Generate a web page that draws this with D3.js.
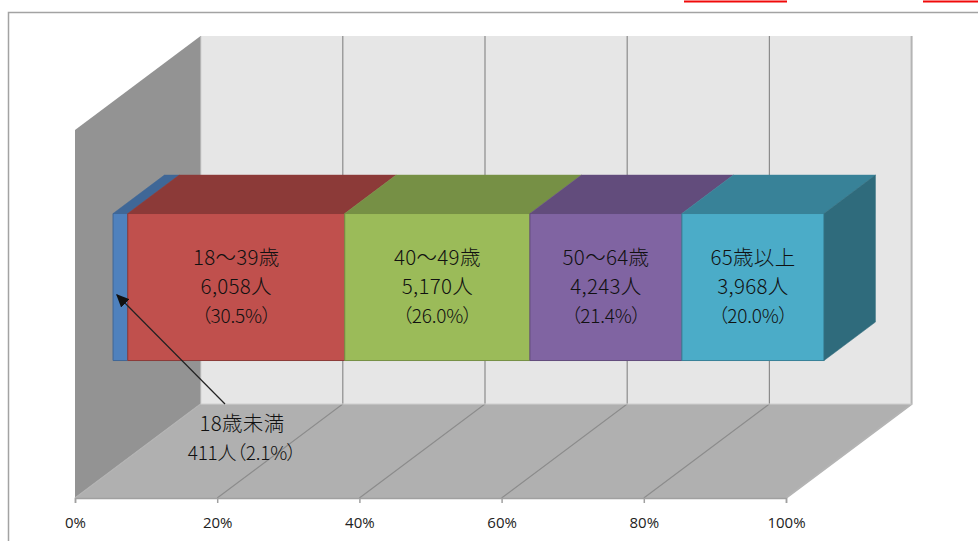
<!DOCTYPE html>
<html>
<head>
<meta charset="utf-8">
<script src="https://cdn.jsdelivr.net/npm/d3@7"></script>
<style>
  body { margin: 0; background: #fff; }
  svg { display: block; }
  .label { font-family: "Noto Sans CJK JP"; font-weight: 300; font-size: 20.5px; font-feature-settings: "palt"; fill: #111; text-anchor: middle; letter-spacing: 0.3px; }
  .label.tight { font-size: 19px; letter-spacing: -0.2px; }
  .tick text { font-family: "Open Sans"; font-size: 15px; fill: #222; }
</style>
</head>
<body>
<div id="wrapper"></div>
<script>
const categories = ["18歳未満", "18～39歳", "40～49歳", "50～64歳", "65歳以上"]
const people = [411, 6058, 5170, 4243, 3968]
const shares = ["2.1%", "30.5%", "26.0%", "21.4%", "20.0%"]
const tickValues = [0, 0.2, 0.4, 0.6, 0.8, 1]

const frontColors = ["#4f81bd", "#c0504d", "#9bbb59", "#8064a2", "#4bacc8"]
const topColors = ["#3f6797", "#8c3a38", "#769045", "#624c7c", "#388298"]
const sideColor = "#2f6b7c"

let dimensions = {
  width: 978,
  height: 541,
  floorLeft: 75,
  floorRight: 786,
  floorY: 498,
  depthX: 125.6,
  depthY: 94,
  wallHeight: 368,
  barBack: 0.712,
  barFront: 0.303,
  barBottom: 109,
  barTop: 256
}

const wrapper = d3.select("#wrapper").append("svg")
  .attr("width", dimensions.width)
  .attr("height", dimensions.height)

// Scales
const xScale = d3.scaleLinear().domain([0, 1]).range([dimensions.floorLeft, dimensions.floorRight])
const depthScale = d3.scaleLinear().domain([0, 1]).range([0, dimensions.depthX])
const riseScale = d3.scaleLinear().domain([0, 1]).range([0, dimensions.depthY])

// value along the axis, depth into the box, height above the floor -> screen point
const project = (v, d, h) => [xScale(v) + depthScale(d), dimensions.floorY - riseScale(d) - h]
const poly = pts => "M" + pts.map(p => p.join(",")).join("L") + "Z"

// Red rules left over from the page above the chart
const rules = [[684, 787], [923, 978]]
wrapper.selectAll(".rule").data(rules).enter().append("line")
  .attr("x1", d => d[0]).attr("x2", d => d[1])
  .attr("y1", 1.5).attr("y2", 1.5)
  .attr("stroke", "#f00a0a").attr("stroke-width", 2)

// Outer frame, open on the right and bottom
wrapper.append("path")
  .attr("d", `M8.5,${dimensions.height}V12.5H${dimensions.width}`)
  .attr("fill", "none").attr("stroke", "#a3a3a3").attr("stroke-width", 1.5)

// Walls and floor
const h = dimensions.wallHeight
wrapper.append("path")
  .attr("d", poly([project(0, 1, 0), project(0, 1, h), project(1, 1, h), project(1, 1, 0)]))
  .attr("fill", "#e6e6e6")
wrapper.append("path")
  .attr("d", poly([project(0, 0, 0), project(0, 0, h), project(0, 1, h), project(0, 1, 0)]))
  .attr("fill", "#939393")
wrapper.append("path")
  .attr("d", poly([project(0, 0, 0), project(0, 1, 0), project(1, 1, 0), project(1, 0, 0)]))
  .attr("fill", "#b0b0b0")

// Gridlines over back wall and floor
const gridLine = d3.line()
wrapper.selectAll(".grid").data(tickValues).enter().append("path")
  .attr("d", v => gridLine([project(v, 1, h), project(v, 1, 0), project(v, 0, 0)]))
  .attr("fill", "none")
  .attr("stroke", v => (v === 0 || v === 1) ? "#b4b4b4" : "#8c8c8c")
  .attr("stroke-width", v => v === 1 ? 2 : 1.2)

// Floor back edge
wrapper.append("path")
  .attr("d", gridLine([project(0, 1, 0), project(1, 1, 0)]))
  .attr("stroke", "#cfcfcf").attr("fill", "none")

// Axis
const xAxisGenerator = d3.axisBottom().scale(xScale)
  .tickValues(tickValues).tickFormat(d3.format(".0%")).tickSize(5).tickPadding(14)
const xAxis = wrapper.append("g").call(xAxisGenerator)
  .attr("transform", `translate(0,${dimensions.floorY})`)
xAxis.selectAll("line, path").attr("stroke", "#a0a0a0").attr("stroke-width", 1.5)

// Stacked 100% bar
const row = {}
categories.forEach((c, i) => row[c] = people[i])
const stacked = d3.stack().keys(categories).offset(d3.stackOffsetExpand)([row])
const segs = stacked.map((s, i) => ({ x0: s[0][0], x1: s[0][1], i }))
const { barFront: zf, barBack: zb, barBottom: lo, barTop: hi } = dimensions

const bars = wrapper.append("g")
bars.selectAll(".bar-top").data(segs).enter().append("path")
  .attr("d", d => poly([project(d.x0, zf, hi), project(d.x0, zb, hi), project(d.x1, zb, hi), project(d.x1, zf, hi)]))
  .attr("fill", d => topColors[d.i])
  .attr("stroke", d => topColors[d.i]).attr("stroke-width", 0.5)
bars.selectAll(".bar-front").data(segs).enter().append("path")
  .attr("d", d => poly([project(d.x0, zf, lo), project(d.x0, zf, hi), project(d.x1, zf, hi), project(d.x1, zf, lo)]))
  .attr("fill", d => frontColors[d.i])
  .attr("stroke", d => topColors[d.i]).attr("stroke-width", 1)
bars.append("path")
  .attr("d", poly([project(1, zf, lo), project(1, zf, hi), project(1, zb, hi), project(1, zb, lo)]))
  .attr("fill", sideColor)
  .attr("stroke", sideColor).attr("stroke-width", 0.5)

// Labels inside the bar segments
const labelLines = [258, 287, 316]
const inside = wrapper.selectAll(".inside").data(segs.slice(1)).enter().append("g")
labelLines.forEach((y, n) => {
  inside.append("text")
    .attr("class", n === 2 ? "label tight" : "label")
    .attr("x", d => (project(d.x0, zf, 0)[0] + project(d.x1, zf, 0)[0]) / 2)
    .attr("y", y + 7)
    .text(d => n === 0 ? categories[d.i]
      : n === 1 ? `${d3.format(",")(people[d.i])}人`
      : `（${shares[d.i]}）`)
})

// Callout for the thin first segment
wrapper.append("defs").append("marker")
  .attr("id", "arrow").attr("viewBox", "0 0 10 10").attr("refX", 9).attr("refY", 5)
  .attr("markerWidth", 11).attr("markerHeight", 11).attr("orient", "auto")
  .append("path").attr("d", "M0,0.5L10,5L0,9.5Z").attr("fill", "#111")
wrapper.append("line")
  .attr("x1", 225).attr("y1", 404).attr("x2", 117).attr("y2", 295)
  .attr("stroke", "#222").attr("stroke-width", 1.2)
  .attr("marker-end", "url(#arrow)")
wrapper.append("text").attr("class", "label").attr("x", 242).attr("y", 431).text(categories[0])
wrapper.append("text").attr("class", "label tight").attr("x", 242).attr("y", 460)
  .text(`${people[0]}人（${shares[0]}）`)
</script>
</body>
</html>
